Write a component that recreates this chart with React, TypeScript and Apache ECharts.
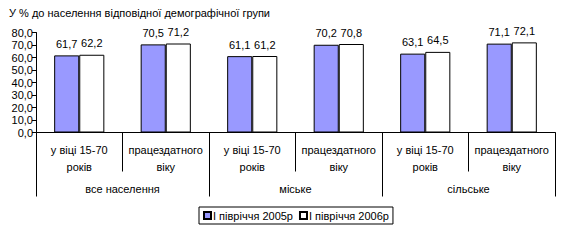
import React, { useEffect, useRef } from "react";
import * as echarts from "echarts";

const categories = [
  "у віці 15-70\nроків",
  "працездатного\nвіку",
  "у віці 15-70\nроків",
  "працездатного\nвіку",
  "у віці 15-70\nроків",
  "працездатного\nвіку",
];
const groups = ["все населення", "міське", "сільське"];
const seriesNames = ["І півріччя 2005р", "І півріччя 2006р"];
const values2005 = [61.7, 70.5, 61.1, 70.2, 63.1, 71.1];
const values2006 = [62.2, 71.2, 61.2, 70.8, 64.5, 72.1];
const titleText = "У % до населення відповідної демографічної групи";

const FONT = "'Liberation Sans', Arial, sans-serif";
const fmt = (v: number) => v.toFixed(1).replace(".", ",");

export default function App() {
  const ref = useRef<HTMLDivElement>(null);
  useEffect(() => {
    if (!ref.current) return;
    const chart = echarts.init(ref.current, undefined, { renderer: "svg" });
    const labelStyle = {
      show: true,
      position: "top" as const,
      distance: 6,
      color: "#000",
      fontSize: 11,
      fontFamily: FONT,
      formatter: (p: any) => fmt(p.value),
    };
    chart.setOption({
      animation: false,
      backgroundColor: "#fff",
      textStyle: { fontFamily: FONT, color: "#000" },
      title: {
        text: titleText,
        left: 9,
        top: 7,
        padding: 0,
        textStyle: { fontSize: 11, fontWeight: "normal", color: "#000", fontFamily: FONT },
      },
      legend: {
        left: 199,
        top: 207,
        padding: [3, 4, 3, 4],
        itemGap: 6,
        itemWidth: 7,
        itemHeight: 7,
        borderColor: "#000",
        borderWidth: 1,
        borderRadius: 0,
        icon: "rect",
        textStyle: { fontSize: 11, color: "#000", fontFamily: FONT, padding: [0, 0, 0, -3] },
        data: seriesNames,
      },
      grid: { left: 36, right: 6, top: 32.5, bottom: 107.5, containLabel: false },
      xAxis: [
        {
          type: "category",
          data: categories,
          position: "bottom",
          axisLine: { show: true, lineStyle: { color: "#000", width: 1 } },
          axisTick: { show: true, length: 39, interval: 0, alignWithLabel: false, lineStyle: { color: "#000" } },
          axisLabel: {
            interval: 0,
            margin: 9,
            fontSize: 11,
            lineHeight: 17,
            color: "#000",
            fontFamily: FONT,
          },
          splitLine: { show: false },
        },
        {
          type: "category",
          data: groups,
          position: "bottom",
          offset: 0,
          axisLine: { show: false },
          axisTick: { show: true, length: 64, interval: 0, alignWithLabel: false, lineStyle: { color: "#000" } },
          axisLabel: {
            interval: 0,
            margin: 49,
            fontSize: 11,
            lineHeight: 14,
            color: "#000",
            fontFamily: FONT,
          },
          splitLine: { show: false },
        },
      ],
      yAxis: {
        type: "value",
        min: 0,
        max: 80,
        interval: 10,
        axisLine: { show: true, lineStyle: { color: "#000", width: 1 } },
        axisTick: { show: true, length: 4, lineStyle: { color: "#000" } },
        axisLabel: {
          margin: 3,
          fontSize: 11,
          color: "#000",
          fontFamily: FONT,
          formatter: (v: number) => fmt(v),
        },
        splitLine: { show: false },
      },
      series: [
        {
          name: seriesNames[0],
          type: "bar",
          xAxisIndex: 0,
          data: values2005,
          barGap: "0%",
          barCategoryGap: "42%",
          itemStyle: { color: "#9999FF", borderColor: "#000", borderWidth: 1 },
          label: labelStyle,
        },
        {
          name: seriesNames[1],
          type: "bar",
          xAxisIndex: 0,
          data: values2006,
          barGap: "0%",
          barCategoryGap: "42%",
          itemStyle: { color: "#FFFFFF", borderColor: "#000", borderWidth: 1 },
          label: labelStyle,
        },
      ],
    });
    return () => chart.dispose();
  }, []);
  return <div ref={ref} style={{ width: 561, height: 240, position: "absolute", left: 0, top: 0 }} />;
}
